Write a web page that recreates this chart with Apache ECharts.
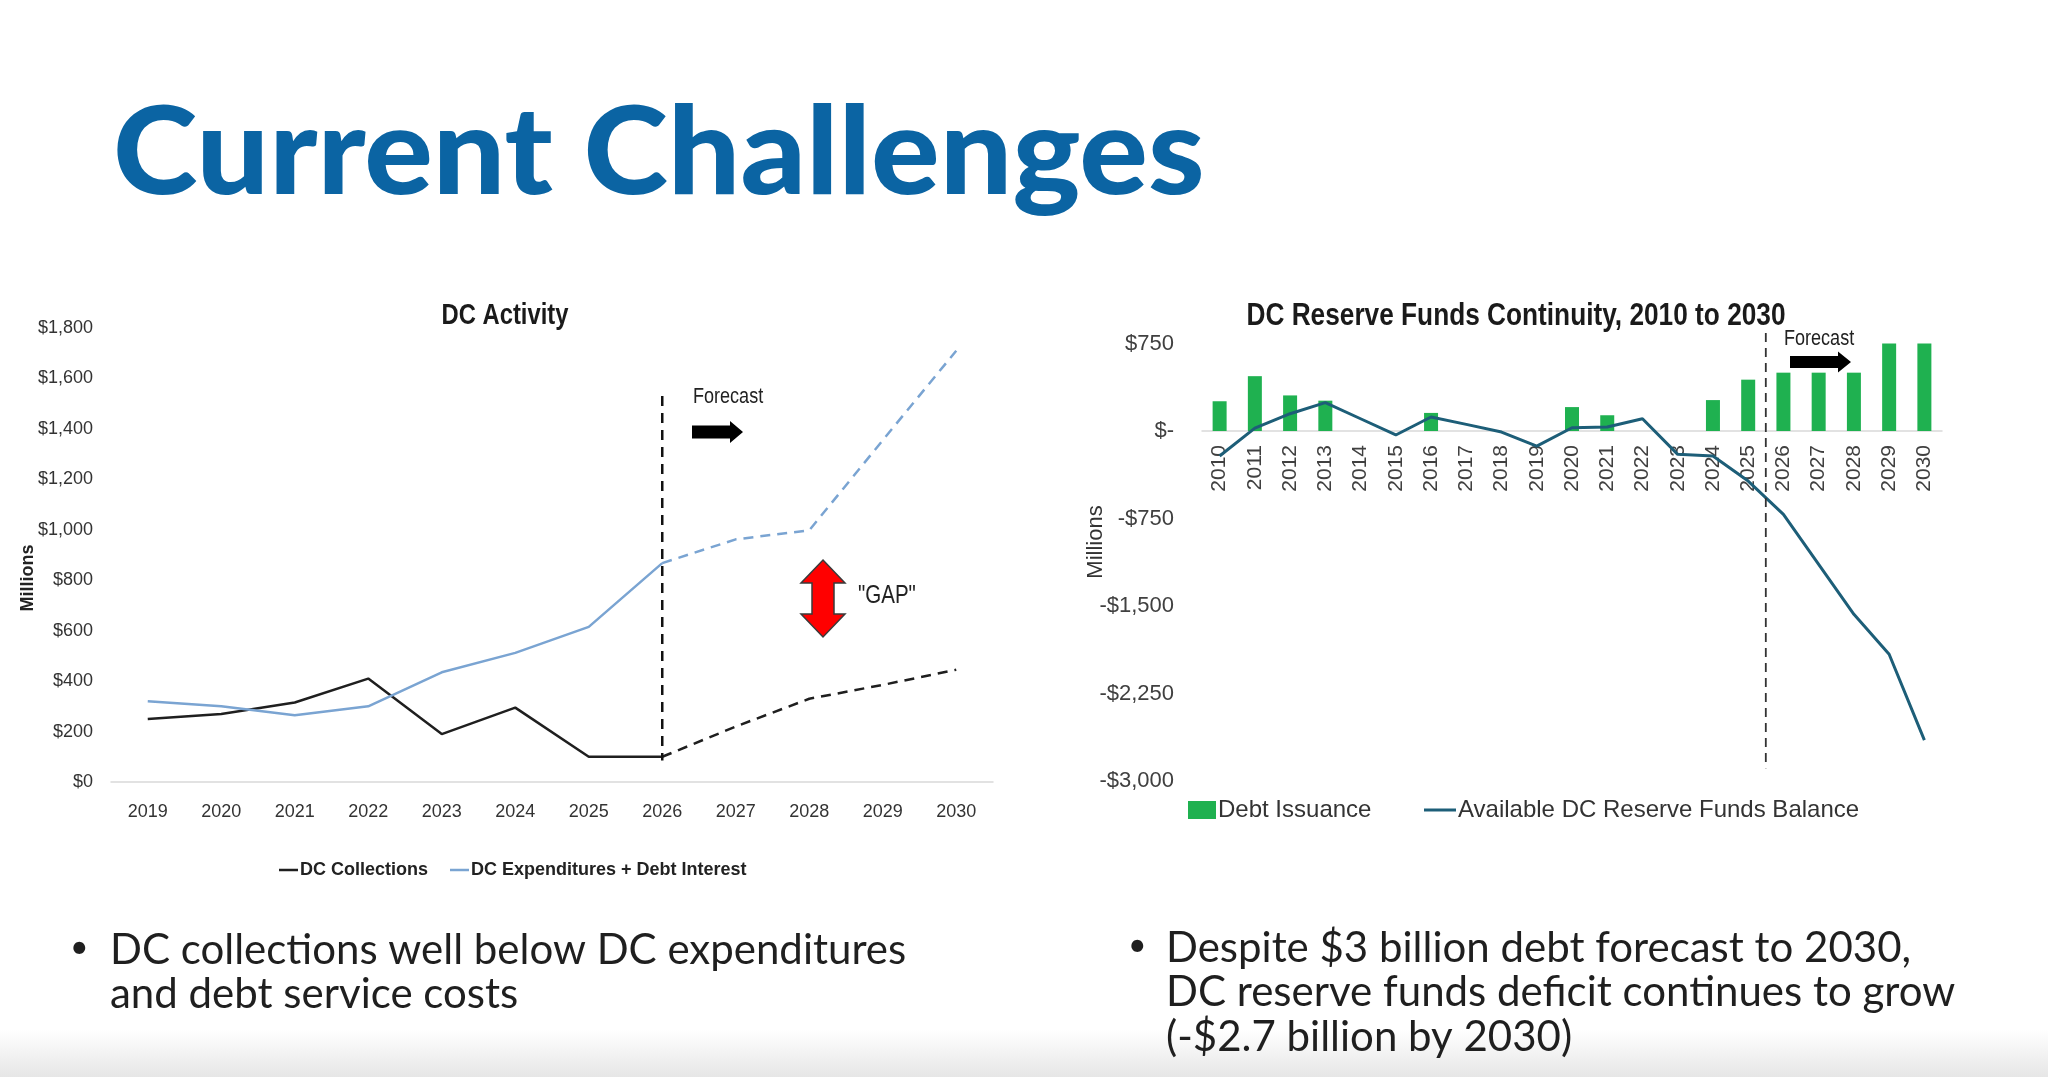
<!DOCTYPE html>
<html>
<head>
<meta charset="utf-8">
<title>Current Challenges</title>
<script src="https://cdn.jsdelivr.net/npm/echarts@6/dist/echarts.min.js"></script>
<style>
  html, body { margin: 0; padding: 0; background: #fff; }
  #main { width: 2048px; height: 1077px; }
</style>
</head>
<body>
<div id="main"></div>
<script>
// DC Activity (left chart), $ millions
const activityYears = ["2019", "2020", "2021", "2022", "2023", "2024", "2025", "2026", "2027", "2028", "2029", "2030"];
const dcCollections = [250, 270, 315, 410, 190, 295, 100, 100, 220, 330, 385, 445];
const dcExpenditures = [320, 300, 265, 300, 435, 512, 615, 868, 962, 998, 1355, 1710];
const activityForecastFrom = "2026";

// DC Reserve Funds Continuity (right chart), $ millions
const reserveYears = ["2010", "2011", "2012", "2013", "2014", "2015", "2016", "2017", "2018", "2019", "2020",
  "2021", "2022", "2023", "2024", "2025", "2026", "2027", "2028", "2029", "2030"];
const debtIssuance = [255, 470, 305, 260, null, null, 155, null, null, null, 205, 135, null, null, 265, 440, 500, 500, 500, 750, 750];
const reserveBalance = [-214, 25, 148, 243, 105, -34, 120, 57, -9, -129, 28, 34, 105, -200, -214, -429, -715, -1143, -1571, -1914, -2650];

const ARIAL = '"Liberation Sans", Arial, sans-serif';
const LATO = 'Lato, "Open Sans", sans-serif';
const CONDENSE = 0.82; // squeeze factor standing in for the narrow office font

// split a series into actual / forecast parts (both share the boundary point)
const splitAt = (values, cats, from) => {
  const idx = cats.indexOf(from);
  return {
    actual: values.map((v, i) => (i <= idx ? v : null)),
    forecast: values.map((v, i) => (i >= idx ? v : null))
  };
};

const collections = splitAt(dcCollections, activityYears, activityForecastFrom);
const expenditures = splitAt(dcExpenditures, activityYears, activityForecastFrom);

const money = (v) => "$" + Math.abs(v).toLocaleString("en-US");
const reserveLabel = (v) => (v === 0 ? "$-" : (v < 0 ? "-" : "") + money(v));

const option = {
  backgroundColor: "#fff",
  animation: false,
  grid: [
    { left: 111, top: 328, width: 882, height: 454 },
    { left: 1202, top: 343.5, width: 740, height: 437.5 },
    // label strip for the right chart: its bottom edge sits on the zero line
    { left: 1202, top: 343.5, width: 740, height: 87.5 }
  ],
  xAxis: [
    {
      type: "category",
      gridIndex: 0,
      data: activityYears,
      boundaryGap: true,
      axisLine: { lineStyle: { color: "#d9d9d9", width: 1.5 } },
      axisTick: { show: false },
      axisLabel: { margin: 21, color: "#333", fontFamily: ARIAL, fontSize: 18 }
    },
    {
      type: "category",
      gridIndex: 1,
      data: reserveYears,
      boundaryGap: true,
      axisLine: { onZero: true, lineStyle: { color: "#d9d9d9", width: 1.5 } },
      axisTick: { show: false },
      axisLabel: { show: false }
    },
    {
      type: "category",
      gridIndex: 2,
      data: reserveYears,
      boundaryGap: true,
      axisLine: { show: false },
      axisTick: { show: false },
      axisLabel: { rotate: 90, margin: 14, color: "#404040", fontFamily: ARIAL, fontSize: 21 }
    }
  ],
  yAxis: [
    {
      type: "value",
      gridIndex: 0,
      min: 0,
      max: 1800,
      interval: 200,
      splitLine: { show: false },
      axisLine: { show: false },
      axisTick: { show: false },
      axisLabel: { margin: 18, color: "#333", fontFamily: ARIAL, fontSize: 18, formatter: money }
    },
    {
      type: "value",
      gridIndex: 1,
      min: -3000,
      max: 750,
      interval: 750,
      splitLine: { show: false },
      axisLine: { show: false },
      axisTick: { show: false },
      axisLabel: { margin: 28, color: "#404040", fontFamily: ARIAL, fontSize: 22, formatter: reserveLabel }
    },
    {
      type: "value",
      gridIndex: 2,
      min: 0,
      max: 750,
      show: false
    }
  ],
  legend: [
    {
      left: 274,
      top: 856,
      icon: "rect",
      itemWidth: 19,
      itemHeight: 2.5,
      itemGap: 22,
      textStyle: { color: "#222", fontFamily: ARIAL, fontWeight: "bold", fontSize: 18, padding: [0, 0, 0, -3] },
      data: ["DC Collections", "DC Expenditures + Debt Interest"]
    },
    {
      left: 1183,
      top: 793,
      icon: "rect",
      itemWidth: 28,
      itemHeight: 18,
      textStyle: { color: "#333", fontFamily: ARIAL, fontSize: 24, padding: [0, 0, 0, -3] },
      data: ["Debt Issuance"]
    },
    {
      left: 1419,
      top: 793,
      icon: "rect",
      itemWidth: 32,
      itemHeight: 3,
      textStyle: { color: "#333", fontFamily: ARIAL, fontSize: 24, padding: [0, 0, 0, -3] },
      data: ["Available DC Reserve Funds Balance"]
    }
  ],
  series: [
    {
      name: "DC Collections",
      type: "line",
      xAxisIndex: 0, yAxisIndex: 0,
      data: collections.actual,
      showSymbol: false,
      color: "#1f1f1f",
      lineStyle: { width: 2.5, color: "#1f1f1f" },
      z: 3
    },
    {
      name: "DC Collections",
      type: "line",
      xAxisIndex: 0, yAxisIndex: 0,
      data: collections.forecast,
      showSymbol: false,
      color: "#1f1f1f",
      lineStyle: { width: 2.5, color: "#1f1f1f", type: [10, 7] },
      z: 3
    },
    {
      name: "DC Expenditures + Debt Interest",
      type: "line",
      xAxisIndex: 0, yAxisIndex: 0,
      data: expenditures.actual,
      showSymbol: false,
      color: "#7aa4d2",
      lineStyle: { width: 2.5, color: "#7aa4d2" }
    },
    {
      name: "DC Expenditures + Debt Interest",
      type: "line",
      xAxisIndex: 0, yAxisIndex: 0,
      data: expenditures.forecast,
      showSymbol: false,
      color: "#7aa4d2",
      lineStyle: { width: 2.5, color: "#7aa4d2", type: [10, 7] }
    },
    {
      name: "Debt Issuance",
      type: "bar",
      xAxisIndex: 1, yAxisIndex: 1,
      data: debtIssuance,
      barWidth: 14,
      itemStyle: { color: "#1fb150" }
    },
    {
      name: "Available DC Reserve Funds Balance",
      type: "line",
      xAxisIndex: 1, yAxisIndex: 1,
      data: reserveBalance,
      showSymbol: false,
      color: "#1d5e78",
      lineStyle: { width: 3, color: "#1d5e78" },
      z: 4
    }
  ]
};

const chart = echarts.init(document.getElementById("main"));
chart.setOption(option);

// annotations placed from the axes
const px = (grid, cat, val) => chart.convertToPixel({ gridIndex: grid }, [cat, val]);
const leftTop = px(0, activityForecastFrom, 1530);
const leftBot = px(0, activityForecastFrom, 85);
const rightX = (px(1, "2025", 0)[0] + px(1, "2026", 0)[0]) / 2;
const rightTop = px(1, "2025", 840)[1];
const rightBot = px(1, "2025", -2890)[1];

const text = (t, x, y, size, family, extra, el) => Object.assign({
  type: "text",
  x: x, y: y,
  style: Object.assign({
    text: t, fontSize: size, fontFamily: family, fill: "#222",
    textAlign: "left", textVerticalAlign: "middle"
  }, extra || {})
}, el || {});

const narrow = { scaleX: CONDENSE };

const arrowRight = (x0, x1, xh, yc, body, head) => ({
  type: "polygon",
  shape: {
    points: [[x0, yc - body / 2], [x1, yc - body / 2], [x1, yc - head / 2], [xh, yc],
      [x1, yc + head / 2], [x1, yc + body / 2], [x0, yc + body / 2]]
  },
  style: { fill: "#000" }
});

chart.setOption({
  graphic: [
    // footer shade
    {
      type: "rect",
      shape: { x: 0, y: 1030, width: 2048, height: 47 },
      style: {
        fill: new echarts.graphic.LinearGradient(0, 0, 0, 1, [
          { offset: 0, color: "#ffffff" },
          { offset: 1, color: "#e6e6e6" }
        ])
      },
      z: -10
    },
    // page title
    text("Current Challenges", 113, 155, 122, LATO, { fontWeight: 900, fill: "#0b64a3" }, { scaleX: 1.05 }),

    // chart titles
    text("DC Activity", 505, 316, 29, ARIAL, { fontWeight: "bold", textAlign: "center", fill: "#1a1a1a" }, narrow),
    text("DC Reserve Funds Continuity, 2010 to 2030", 1516, 316, 32, ARIAL,
      { fontWeight: "bold", textAlign: "center", fill: "#1a1a1a" }, narrow),

    // axis names
    text("Millions", 28, 578, 18, ARIAL, { fontWeight: "bold", textAlign: "center", fill: "#222" }, { rotation: Math.PI / 2 }),
    text("Millions", 1096, 542, 22, ARIAL, { textAlign: "center", fill: "#333" }, { rotation: Math.PI / 2 }),

    // forecast separators
    {
      type: "line",
      shape: { x1: leftTop[0], y1: leftTop[1], x2: leftBot[0], y2: leftBot[1] },
      style: { stroke: "#111", lineWidth: 2.5, lineDash: [10, 7] },
      z: 5
    },
    {
      type: "line",
      shape: { x1: rightX, y1: rightTop, x2: rightX, y2: rightBot },
      style: { stroke: "#333", lineWidth: 1.8, lineDash: [9, 6] },
      z: 5
    },

    // left annotations
    text("Forecast", 693, 397, 22, ARIAL, null, narrow),
    arrowRight(692, 730, 743, 432, 13, 22),
    {
      type: "polygon",
      shape: {
        points: [[823, 560], [845, 583], [834, 583], [834, 614], [845, 614], [823, 637],
          [801, 614], [812, 614], [812, 583], [801, 583]]
      },
      style: { fill: "#ff0000", stroke: "#3a3a3a", lineWidth: 1.5 }
    },
    text('"GAP"', 858, 596, 25, ARIAL, null, narrow),

    // right annotations
    text("Forecast", 1784, 339, 22, ARIAL, null, narrow),
    arrowRight(1790, 1838, 1851, 362, 12, 21),

    // bullets
    text("\u2022", 70, 948, 32, LATO, { fill: "#1f1f1f" }),
    text("DC collections well below DC expenditures", 110, 950, 42, LATO, { fill: "#1f1f1f" }),
    text("and debt service costs", 110, 994, 42, LATO, { fill: "#1f1f1f" }),
    text("\u2022", 1128, 946, 32, LATO, { fill: "#1f1f1f" }),
    text("Despite $3 billion debt forecast to 2030,", 1166, 948, 42, LATO, { fill: "#1f1f1f" }),
    text("DC reserve funds deficit continues to grow", 1166, 992, 42, LATO, { fill: "#1f1f1f" }),
    text("(-$2.7 billion by 2030)", 1166, 1037, 42, LATO, { fill: "#1f1f1f" })
  ]
});
</script>
</body>
</html>
